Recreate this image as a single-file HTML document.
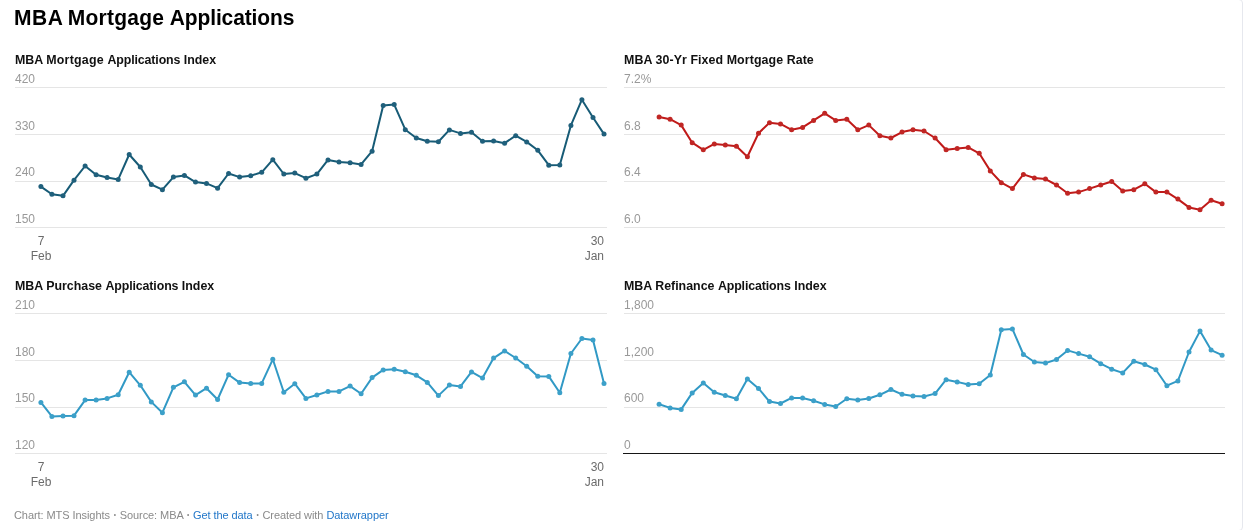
<!DOCTYPE html>
<html><head><meta charset="utf-8"><title>MBA Mortgage Applications</title>
<style>
html,body{margin:0;padding:0;background:#fff}
body{width:1244px;height:530px;position:relative;overflow:hidden;font-family:"Liberation Sans",sans-serif;}
.h1{position:absolute;left:14px;top:4px;word-spacing:-0.4px;transform:scaleY(1.09);transform-origin:0 21.2px;font-size:21px;font-weight:700;color:#000;white-space:nowrap;line-height:28px}
.ct{position:absolute;font-size:12.4px;font-weight:700;color:#111;white-space:nowrap;line-height:16px}
.yl{position:absolute;font-size:12px;color:#999999;white-space:nowrap;line-height:16px}
.xl{position:absolute;font-size:12px;color:#6b6b6b;white-space:nowrap;line-height:15px;text-align:center}
.edge{position:absolute;left:-10px;top:-1px;width:1251px;height:530px;border:1px solid #e6e8ee;border-radius:4px;box-sizing:content-box}
.xl.r{text-align:right}
.ft{position:absolute;left:14px;top:508px;letter-spacing:-0.07px;font-size:11px;color:#8a8a8a;white-space:nowrap;line-height:14px}
.ft a{color:#2277c9;text-decoration:none}
.ft .b{display:inline-block;width:3.85px;text-align:center;font-size:6.5px;vertical-align:1.6px;letter-spacing:0}
</style></head><body>
<svg width="1244" height="530" viewBox="0 0 1244 530" style="position:absolute;left:0;top:0">
<rect x="15" y="87" width="592" height="1" fill="#e5e5e5"/>
<rect x="15" y="134" width="592" height="1" fill="#e5e5e5"/>
<rect x="15" y="181" width="592" height="1" fill="#e5e5e5"/>
<rect x="15" y="227" width="592" height="1" fill="#e5e5e5"/>
<rect x="624" y="87" width="601" height="1" fill="#e5e5e5"/>
<rect x="624" y="134" width="601" height="1" fill="#e5e5e5"/>
<rect x="624" y="181" width="601" height="1" fill="#e5e5e5"/>
<rect x="624" y="227" width="601" height="1" fill="#e5e5e5"/>
<rect x="15" y="313" width="592" height="1" fill="#e5e5e5"/>
<rect x="15" y="360" width="592" height="1" fill="#e5e5e5"/>
<rect x="15" y="407" width="592" height="1" fill="#e5e5e5"/>
<rect x="15" y="453" width="592" height="1" fill="#e5e5e5"/>
<rect x="624" y="313" width="601" height="1" fill="#e5e5e5"/>
<rect x="624" y="360" width="601" height="1" fill="#e5e5e5"/>
<rect x="624" y="407" width="601" height="1" fill="#e5e5e5"/>
<rect x="623" y="453" width="602" height="1" fill="#161616"/>
<polyline points="40.9,186.6 51.9,194.3 63.0,195.8 74.0,180.2 85.1,166.0 96.1,174.7 107.1,177.5 118.2,179.4 129.2,154.5 140.3,167.0 151.3,184.5 162.4,189.7 173.4,177.1 184.4,175.4 195.5,182.1 206.5,183.4 217.6,188.2 228.6,173.5 239.6,177.1 250.7,175.7 261.7,172.3 272.8,159.7 283.8,174.0 294.8,173.1 305.9,178.2 316.9,174.1 328.0,159.9 339.0,162.0 350.1,162.8 361.1,164.4 372.1,151.2 383.2,105.4 394.2,104.6 405.3,129.7 416.3,138.0 427.3,141.3 438.4,141.8 449.4,129.9 460.5,133.4 471.5,132.3 482.5,141.3 493.6,141.0 504.6,143.2 515.7,135.7 526.7,141.9 537.8,150.3 548.8,165.2 559.8,165.1 570.9,125.4 581.9,99.7 593.0,117.5 604.0,134.1" fill="none" stroke="#175b76" stroke-width="2" stroke-linejoin="round" stroke-linecap="round"/>
<circle cx="40.9" cy="186.6" r="2.5" fill="#20607c"/><circle cx="51.9" cy="194.3" r="2.5" fill="#20607c"/><circle cx="63.0" cy="195.8" r="2.5" fill="#20607c"/><circle cx="74.0" cy="180.2" r="2.5" fill="#20607c"/><circle cx="85.1" cy="166.0" r="2.5" fill="#20607c"/><circle cx="96.1" cy="174.7" r="2.5" fill="#20607c"/><circle cx="107.1" cy="177.5" r="2.5" fill="#20607c"/><circle cx="118.2" cy="179.4" r="2.5" fill="#20607c"/><circle cx="129.2" cy="154.5" r="2.5" fill="#20607c"/><circle cx="140.3" cy="167.0" r="2.5" fill="#20607c"/><circle cx="151.3" cy="184.5" r="2.5" fill="#20607c"/><circle cx="162.4" cy="189.7" r="2.5" fill="#20607c"/><circle cx="173.4" cy="177.1" r="2.5" fill="#20607c"/><circle cx="184.4" cy="175.4" r="2.5" fill="#20607c"/><circle cx="195.5" cy="182.1" r="2.5" fill="#20607c"/><circle cx="206.5" cy="183.4" r="2.5" fill="#20607c"/><circle cx="217.6" cy="188.2" r="2.5" fill="#20607c"/><circle cx="228.6" cy="173.5" r="2.5" fill="#20607c"/><circle cx="239.6" cy="177.1" r="2.5" fill="#20607c"/><circle cx="250.7" cy="175.7" r="2.5" fill="#20607c"/><circle cx="261.7" cy="172.3" r="2.5" fill="#20607c"/><circle cx="272.8" cy="159.7" r="2.5" fill="#20607c"/><circle cx="283.8" cy="174.0" r="2.5" fill="#20607c"/><circle cx="294.8" cy="173.1" r="2.5" fill="#20607c"/><circle cx="305.9" cy="178.2" r="2.5" fill="#20607c"/><circle cx="316.9" cy="174.1" r="2.5" fill="#20607c"/><circle cx="328.0" cy="159.9" r="2.5" fill="#20607c"/><circle cx="339.0" cy="162.0" r="2.5" fill="#20607c"/><circle cx="350.1" cy="162.8" r="2.5" fill="#20607c"/><circle cx="361.1" cy="164.4" r="2.5" fill="#20607c"/><circle cx="372.1" cy="151.2" r="2.5" fill="#20607c"/><circle cx="383.2" cy="105.4" r="2.5" fill="#20607c"/><circle cx="394.2" cy="104.6" r="2.5" fill="#20607c"/><circle cx="405.3" cy="129.7" r="2.5" fill="#20607c"/><circle cx="416.3" cy="138.0" r="2.5" fill="#20607c"/><circle cx="427.3" cy="141.3" r="2.5" fill="#20607c"/><circle cx="438.4" cy="141.8" r="2.5" fill="#20607c"/><circle cx="449.4" cy="129.9" r="2.5" fill="#20607c"/><circle cx="460.5" cy="133.4" r="2.5" fill="#20607c"/><circle cx="471.5" cy="132.3" r="2.5" fill="#20607c"/><circle cx="482.5" cy="141.3" r="2.5" fill="#20607c"/><circle cx="493.6" cy="141.0" r="2.5" fill="#20607c"/><circle cx="504.6" cy="143.2" r="2.5" fill="#20607c"/><circle cx="515.7" cy="135.7" r="2.5" fill="#20607c"/><circle cx="526.7" cy="141.9" r="2.5" fill="#20607c"/><circle cx="537.8" cy="150.3" r="2.5" fill="#20607c"/><circle cx="548.8" cy="165.2" r="2.5" fill="#20607c"/><circle cx="559.8" cy="165.1" r="2.5" fill="#20607c"/><circle cx="570.9" cy="125.4" r="2.5" fill="#20607c"/><circle cx="581.9" cy="99.7" r="2.5" fill="#20607c"/><circle cx="593.0" cy="117.5" r="2.5" fill="#20607c"/><circle cx="604.0" cy="134.1" r="2.5" fill="#20607c"/>
<polyline points="659.1,116.9 670.1,119.2 681.2,125.1 692.2,142.7 703.3,149.8 714.3,143.9 725.3,145.1 736.4,146.2 747.4,156.8 758.5,133.3 769.5,122.7 780.5,123.9 791.6,129.8 802.6,127.4 813.6,120.4 824.7,113.3 835.7,120.4 846.8,119.2 857.8,129.8 868.8,125.1 879.9,135.7 890.9,138.0 902.0,132.1 913.0,129.8 924.0,131.0 935.1,138.0 946.1,149.8 957.2,148.6 968.2,147.4 979.2,153.3 990.3,170.9 1001.3,182.7 1012.4,188.6 1023.4,174.4 1034.4,178.0 1045.5,179.1 1056.5,185.0 1067.6,193.2 1078.6,192.1 1089.6,188.6 1100.7,185.0 1111.7,181.5 1122.7,190.9 1133.8,189.7 1144.8,183.8 1155.9,192.1 1166.9,192.1 1177.9,199.1 1189.0,207.4 1200.0,209.7 1211.1,200.3 1222.1,203.8" fill="none" stroke="#c01a19" stroke-width="2" stroke-linejoin="round" stroke-linecap="round"/>
<circle cx="659.1" cy="116.9" r="2.5" fill="#c02624"/><circle cx="670.1" cy="119.2" r="2.5" fill="#c02624"/><circle cx="681.2" cy="125.1" r="2.5" fill="#c02624"/><circle cx="692.2" cy="142.7" r="2.5" fill="#c02624"/><circle cx="703.3" cy="149.8" r="2.5" fill="#c02624"/><circle cx="714.3" cy="143.9" r="2.5" fill="#c02624"/><circle cx="725.3" cy="145.1" r="2.5" fill="#c02624"/><circle cx="736.4" cy="146.2" r="2.5" fill="#c02624"/><circle cx="747.4" cy="156.8" r="2.5" fill="#c02624"/><circle cx="758.5" cy="133.3" r="2.5" fill="#c02624"/><circle cx="769.5" cy="122.7" r="2.5" fill="#c02624"/><circle cx="780.5" cy="123.9" r="2.5" fill="#c02624"/><circle cx="791.6" cy="129.8" r="2.5" fill="#c02624"/><circle cx="802.6" cy="127.4" r="2.5" fill="#c02624"/><circle cx="813.6" cy="120.4" r="2.5" fill="#c02624"/><circle cx="824.7" cy="113.3" r="2.5" fill="#c02624"/><circle cx="835.7" cy="120.4" r="2.5" fill="#c02624"/><circle cx="846.8" cy="119.2" r="2.5" fill="#c02624"/><circle cx="857.8" cy="129.8" r="2.5" fill="#c02624"/><circle cx="868.8" cy="125.1" r="2.5" fill="#c02624"/><circle cx="879.9" cy="135.7" r="2.5" fill="#c02624"/><circle cx="890.9" cy="138.0" r="2.5" fill="#c02624"/><circle cx="902.0" cy="132.1" r="2.5" fill="#c02624"/><circle cx="913.0" cy="129.8" r="2.5" fill="#c02624"/><circle cx="924.0" cy="131.0" r="2.5" fill="#c02624"/><circle cx="935.1" cy="138.0" r="2.5" fill="#c02624"/><circle cx="946.1" cy="149.8" r="2.5" fill="#c02624"/><circle cx="957.2" cy="148.6" r="2.5" fill="#c02624"/><circle cx="968.2" cy="147.4" r="2.5" fill="#c02624"/><circle cx="979.2" cy="153.3" r="2.5" fill="#c02624"/><circle cx="990.3" cy="170.9" r="2.5" fill="#c02624"/><circle cx="1001.3" cy="182.7" r="2.5" fill="#c02624"/><circle cx="1012.4" cy="188.6" r="2.5" fill="#c02624"/><circle cx="1023.4" cy="174.4" r="2.5" fill="#c02624"/><circle cx="1034.4" cy="178.0" r="2.5" fill="#c02624"/><circle cx="1045.5" cy="179.1" r="2.5" fill="#c02624"/><circle cx="1056.5" cy="185.0" r="2.5" fill="#c02624"/><circle cx="1067.6" cy="193.2" r="2.5" fill="#c02624"/><circle cx="1078.6" cy="192.1" r="2.5" fill="#c02624"/><circle cx="1089.6" cy="188.6" r="2.5" fill="#c02624"/><circle cx="1100.7" cy="185.0" r="2.5" fill="#c02624"/><circle cx="1111.7" cy="181.5" r="2.5" fill="#c02624"/><circle cx="1122.7" cy="190.9" r="2.5" fill="#c02624"/><circle cx="1133.8" cy="189.7" r="2.5" fill="#c02624"/><circle cx="1144.8" cy="183.8" r="2.5" fill="#c02624"/><circle cx="1155.9" cy="192.1" r="2.5" fill="#c02624"/><circle cx="1166.9" cy="192.1" r="2.5" fill="#c02624"/><circle cx="1177.9" cy="199.1" r="2.5" fill="#c02624"/><circle cx="1189.0" cy="207.4" r="2.5" fill="#c02624"/><circle cx="1200.0" cy="209.7" r="2.5" fill="#c02624"/><circle cx="1211.1" cy="200.3" r="2.5" fill="#c02624"/><circle cx="1222.1" cy="203.8" r="2.5" fill="#c02624"/>
<polyline points="40.9,402.4 51.9,416.4 63.0,416.0 74.0,415.7 85.1,400.1 96.1,400.0 107.1,398.4 118.2,394.7 129.2,372.2 140.3,385.3 151.3,401.9 162.4,412.7 173.4,387.3 184.4,381.8 195.5,395.1 206.5,388.2 217.6,399.5 228.6,374.7 239.6,382.6 250.7,383.6 261.7,383.4 272.8,359.3 283.8,392.2 294.8,383.7 305.9,398.4 316.9,395.0 328.0,391.4 339.0,391.4 350.1,386.1 361.1,393.7 372.1,377.6 383.2,369.9 394.2,369.3 405.3,371.8 416.3,375.3 427.3,382.4 438.4,395.6 449.4,385.1 460.5,386.4 471.5,371.9 482.5,378.1 493.6,358.1 504.6,350.9 515.7,358.0 526.7,366.2 537.8,376.3 548.8,376.4 559.8,392.7 570.9,353.5 581.9,338.5 593.0,340.1 604.0,383.4" fill="none" stroke="#3199c5" stroke-width="2" stroke-linejoin="round" stroke-linecap="round"/>
<circle cx="40.9" cy="402.4" r="2.5" fill="#3ca0c9"/><circle cx="51.9" cy="416.4" r="2.5" fill="#3ca0c9"/><circle cx="63.0" cy="416.0" r="2.5" fill="#3ca0c9"/><circle cx="74.0" cy="415.7" r="2.5" fill="#3ca0c9"/><circle cx="85.1" cy="400.1" r="2.5" fill="#3ca0c9"/><circle cx="96.1" cy="400.0" r="2.5" fill="#3ca0c9"/><circle cx="107.1" cy="398.4" r="2.5" fill="#3ca0c9"/><circle cx="118.2" cy="394.7" r="2.5" fill="#3ca0c9"/><circle cx="129.2" cy="372.2" r="2.5" fill="#3ca0c9"/><circle cx="140.3" cy="385.3" r="2.5" fill="#3ca0c9"/><circle cx="151.3" cy="401.9" r="2.5" fill="#3ca0c9"/><circle cx="162.4" cy="412.7" r="2.5" fill="#3ca0c9"/><circle cx="173.4" cy="387.3" r="2.5" fill="#3ca0c9"/><circle cx="184.4" cy="381.8" r="2.5" fill="#3ca0c9"/><circle cx="195.5" cy="395.1" r="2.5" fill="#3ca0c9"/><circle cx="206.5" cy="388.2" r="2.5" fill="#3ca0c9"/><circle cx="217.6" cy="399.5" r="2.5" fill="#3ca0c9"/><circle cx="228.6" cy="374.7" r="2.5" fill="#3ca0c9"/><circle cx="239.6" cy="382.6" r="2.5" fill="#3ca0c9"/><circle cx="250.7" cy="383.6" r="2.5" fill="#3ca0c9"/><circle cx="261.7" cy="383.4" r="2.5" fill="#3ca0c9"/><circle cx="272.8" cy="359.3" r="2.5" fill="#3ca0c9"/><circle cx="283.8" cy="392.2" r="2.5" fill="#3ca0c9"/><circle cx="294.8" cy="383.7" r="2.5" fill="#3ca0c9"/><circle cx="305.9" cy="398.4" r="2.5" fill="#3ca0c9"/><circle cx="316.9" cy="395.0" r="2.5" fill="#3ca0c9"/><circle cx="328.0" cy="391.4" r="2.5" fill="#3ca0c9"/><circle cx="339.0" cy="391.4" r="2.5" fill="#3ca0c9"/><circle cx="350.1" cy="386.1" r="2.5" fill="#3ca0c9"/><circle cx="361.1" cy="393.7" r="2.5" fill="#3ca0c9"/><circle cx="372.1" cy="377.6" r="2.5" fill="#3ca0c9"/><circle cx="383.2" cy="369.9" r="2.5" fill="#3ca0c9"/><circle cx="394.2" cy="369.3" r="2.5" fill="#3ca0c9"/><circle cx="405.3" cy="371.8" r="2.5" fill="#3ca0c9"/><circle cx="416.3" cy="375.3" r="2.5" fill="#3ca0c9"/><circle cx="427.3" cy="382.4" r="2.5" fill="#3ca0c9"/><circle cx="438.4" cy="395.6" r="2.5" fill="#3ca0c9"/><circle cx="449.4" cy="385.1" r="2.5" fill="#3ca0c9"/><circle cx="460.5" cy="386.4" r="2.5" fill="#3ca0c9"/><circle cx="471.5" cy="371.9" r="2.5" fill="#3ca0c9"/><circle cx="482.5" cy="378.1" r="2.5" fill="#3ca0c9"/><circle cx="493.6" cy="358.1" r="2.5" fill="#3ca0c9"/><circle cx="504.6" cy="350.9" r="2.5" fill="#3ca0c9"/><circle cx="515.7" cy="358.0" r="2.5" fill="#3ca0c9"/><circle cx="526.7" cy="366.2" r="2.5" fill="#3ca0c9"/><circle cx="537.8" cy="376.3" r="2.5" fill="#3ca0c9"/><circle cx="548.8" cy="376.4" r="2.5" fill="#3ca0c9"/><circle cx="559.8" cy="392.7" r="2.5" fill="#3ca0c9"/><circle cx="570.9" cy="353.5" r="2.5" fill="#3ca0c9"/><circle cx="581.9" cy="338.5" r="2.5" fill="#3ca0c9"/><circle cx="593.0" cy="340.1" r="2.5" fill="#3ca0c9"/><circle cx="604.0" cy="383.4" r="2.5" fill="#3ca0c9"/>
<polyline points="659.1,404.3 670.1,407.9 681.2,409.4 692.2,392.9 703.3,383.1 714.3,392.2 725.3,395.5 736.4,398.8 747.4,379.1 758.5,388.4 769.5,401.6 780.5,403.5 791.6,397.9 802.6,398.0 813.6,400.7 824.7,404.4 835.7,406.5 846.8,398.8 857.8,400.1 868.8,398.5 879.9,394.8 890.9,389.5 902.0,394.3 913.0,395.9 924.0,396.5 935.1,393.6 946.1,379.7 957.2,381.9 968.2,384.5 979.2,383.8 990.3,375.0 1001.3,329.7 1012.4,328.9 1023.4,354.5 1034.4,362.0 1045.5,363.1 1056.5,359.5 1067.6,350.4 1078.6,353.6 1089.6,356.8 1100.7,363.7 1111.7,369.2 1122.7,372.9 1133.8,361.3 1144.8,364.5 1155.9,369.7 1166.9,385.7 1177.9,380.9 1189.0,352.0 1200.0,331.1 1211.1,350.1 1222.1,355.2" fill="none" stroke="#3199c5" stroke-width="2" stroke-linejoin="round" stroke-linecap="round"/>
<circle cx="659.1" cy="404.3" r="2.5" fill="#3ca0c9"/><circle cx="670.1" cy="407.9" r="2.5" fill="#3ca0c9"/><circle cx="681.2" cy="409.4" r="2.5" fill="#3ca0c9"/><circle cx="692.2" cy="392.9" r="2.5" fill="#3ca0c9"/><circle cx="703.3" cy="383.1" r="2.5" fill="#3ca0c9"/><circle cx="714.3" cy="392.2" r="2.5" fill="#3ca0c9"/><circle cx="725.3" cy="395.5" r="2.5" fill="#3ca0c9"/><circle cx="736.4" cy="398.8" r="2.5" fill="#3ca0c9"/><circle cx="747.4" cy="379.1" r="2.5" fill="#3ca0c9"/><circle cx="758.5" cy="388.4" r="2.5" fill="#3ca0c9"/><circle cx="769.5" cy="401.6" r="2.5" fill="#3ca0c9"/><circle cx="780.5" cy="403.5" r="2.5" fill="#3ca0c9"/><circle cx="791.6" cy="397.9" r="2.5" fill="#3ca0c9"/><circle cx="802.6" cy="398.0" r="2.5" fill="#3ca0c9"/><circle cx="813.6" cy="400.7" r="2.5" fill="#3ca0c9"/><circle cx="824.7" cy="404.4" r="2.5" fill="#3ca0c9"/><circle cx="835.7" cy="406.5" r="2.5" fill="#3ca0c9"/><circle cx="846.8" cy="398.8" r="2.5" fill="#3ca0c9"/><circle cx="857.8" cy="400.1" r="2.5" fill="#3ca0c9"/><circle cx="868.8" cy="398.5" r="2.5" fill="#3ca0c9"/><circle cx="879.9" cy="394.8" r="2.5" fill="#3ca0c9"/><circle cx="890.9" cy="389.5" r="2.5" fill="#3ca0c9"/><circle cx="902.0" cy="394.3" r="2.5" fill="#3ca0c9"/><circle cx="913.0" cy="395.9" r="2.5" fill="#3ca0c9"/><circle cx="924.0" cy="396.5" r="2.5" fill="#3ca0c9"/><circle cx="935.1" cy="393.6" r="2.5" fill="#3ca0c9"/><circle cx="946.1" cy="379.7" r="2.5" fill="#3ca0c9"/><circle cx="957.2" cy="381.9" r="2.5" fill="#3ca0c9"/><circle cx="968.2" cy="384.5" r="2.5" fill="#3ca0c9"/><circle cx="979.2" cy="383.8" r="2.5" fill="#3ca0c9"/><circle cx="990.3" cy="375.0" r="2.5" fill="#3ca0c9"/><circle cx="1001.3" cy="329.7" r="2.5" fill="#3ca0c9"/><circle cx="1012.4" cy="328.9" r="2.5" fill="#3ca0c9"/><circle cx="1023.4" cy="354.5" r="2.5" fill="#3ca0c9"/><circle cx="1034.4" cy="362.0" r="2.5" fill="#3ca0c9"/><circle cx="1045.5" cy="363.1" r="2.5" fill="#3ca0c9"/><circle cx="1056.5" cy="359.5" r="2.5" fill="#3ca0c9"/><circle cx="1067.6" cy="350.4" r="2.5" fill="#3ca0c9"/><circle cx="1078.6" cy="353.6" r="2.5" fill="#3ca0c9"/><circle cx="1089.6" cy="356.8" r="2.5" fill="#3ca0c9"/><circle cx="1100.7" cy="363.7" r="2.5" fill="#3ca0c9"/><circle cx="1111.7" cy="369.2" r="2.5" fill="#3ca0c9"/><circle cx="1122.7" cy="372.9" r="2.5" fill="#3ca0c9"/><circle cx="1133.8" cy="361.3" r="2.5" fill="#3ca0c9"/><circle cx="1144.8" cy="364.5" r="2.5" fill="#3ca0c9"/><circle cx="1155.9" cy="369.7" r="2.5" fill="#3ca0c9"/><circle cx="1166.9" cy="385.7" r="2.5" fill="#3ca0c9"/><circle cx="1177.9" cy="380.9" r="2.5" fill="#3ca0c9"/><circle cx="1189.0" cy="352.0" r="2.5" fill="#3ca0c9"/><circle cx="1200.0" cy="331.1" r="2.5" fill="#3ca0c9"/><circle cx="1211.1" cy="350.1" r="2.5" fill="#3ca0c9"/><circle cx="1222.1" cy="355.2" r="2.5" fill="#3ca0c9"/>
</svg>

<div class="edge"></div>
<div class="h1"><span style="letter-spacing:0.5px">MBA</span> <span style="letter-spacing:0.25px;margin-left:-1px">Mortgage</span> <span style="letter-spacing:-0.12px">Applications</span></div>
<div class="ct" style="left:15px;top:52px">MBA <span style="letter-spacing:0.25px">Mortgage</span> <span style="letter-spacing:-0.12px">Applications</span> Index</div>
<div class="ct" style="left:624px;top:52px;letter-spacing:0.08px">MBA 30-Yr Fixed Mortgage Rate</div>
<div class="ct" style="left:15px;top:278px">MBA Purchase <span style="letter-spacing:-0.12px">Applications</span> Index</div>
<div class="ct" style="left:624px;top:278px">MBA Refinance <span style="letter-spacing:-0.12px">Applications</span> Index</div>
<div class="yl" style="left:15px;top:71px">420</div>
<div class="yl" style="left:15px;top:118px">330</div>
<div class="yl" style="left:15px;top:164px">240</div>
<div class="yl" style="left:15px;top:211px">150</div>
<div class="yl" style="left:624px;top:71px">7.2%</div>
<div class="yl" style="left:624px;top:118px">6.8</div>
<div class="yl" style="left:624px;top:164px">6.4</div>
<div class="yl" style="left:624px;top:211px">6.0</div>
<div class="yl" style="left:15px;top:297px">210</div>
<div class="yl" style="left:15px;top:344px">180</div>
<div class="yl" style="left:15px;top:390px">150</div>
<div class="yl" style="left:15px;top:437px">120</div>
<div class="yl" style="left:624px;top:297px">1,800</div>
<div class="yl" style="left:624px;top:344px">1,200</div>
<div class="yl" style="left:624px;top:390px">600</div>
<div class="yl" style="left:624px;top:437px">0</div>

<div class="xl" style="left:11px;width:60px;top:234px">7<br>Feb</div>
<div class="xl r" style="left:544px;width:60px;top:234px">30<br>Jan</div>
<div class="xl" style="left:11px;width:60px;top:460px">7<br>Feb</div>
<div class="xl r" style="left:544px;width:60px;top:460px">30<br>Jan</div>

<div class="ft">Chart: MTS Insights <span class="b">•</span> Source: MBA <span class="b">•</span> <a>Get the data</a> <span class="b">•</span> Created with <a>Datawrapper</a></div>
</body></html>
